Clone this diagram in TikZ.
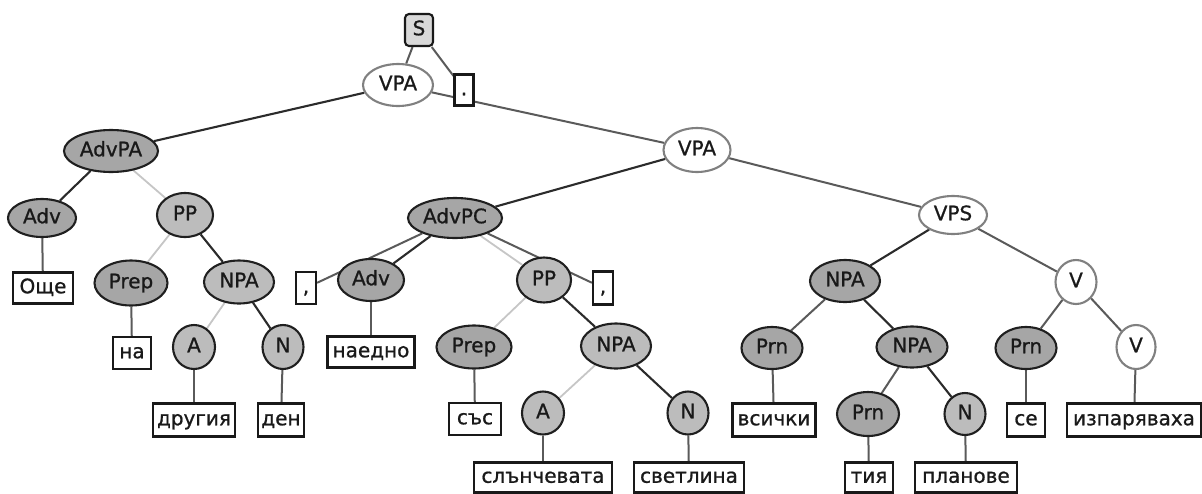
\documentclass[tikz,border=0pt]{standalone}
\usepackage{fontspec}
\setmainfont{DejaVu Sans}
\newfontfamily\nodefont{DejaVu Sans}[FakeBold=0.9]
\usetikzlibrary{shapes.geometric,backgrounds}
\definecolor{darkfill}{HTML}{A6A6A6}
\definecolor{lightfill}{HTML}{BCBCBC}
\definecolor{sfill}{HTML}{D9D9D9}
\definecolor{dedge}{HTML}{2B2B2B}
\definecolor{medge}{HTML}{5A5A5A}
\definecolor{ledge}{HTML}{C6C6C6}
\definecolor{wline}{HTML}{808080}
\begin{document}
\begin{tikzpicture}[x=1pt,y=-1pt,
  base/.style={line width=2.1pt, inner sep=0pt, font=\nodefont\fontsize{20}{22}\selectfont, text height=14pt, text depth=3.5pt, text=black!90},
  sz/.style 2 args={minimum width=#1, minimum height=#2},
  gnode/.style={base, ellipse, draw=black!88, fill=darkfill},
  lnode/.style={base, ellipse, draw=black!88, fill=lightfill},
  wnode/.style={base, ellipse, draw=wline, fill=white},
  leaf/.style={base, rectangle, draw=black!90, fill=white},
  sbox/.style={base, rectangle, rounded corners=4pt, draw=black!90, fill=sfill},
  de/.style={draw=dedge, line width=2.1pt},
  me/.style={draw=medge, line width=2pt},
  le/.style={draw=ledge, line width=1.8pt}
]
\useasboundingbox (0,0) rectangle (1202,493);
% nodes
\node[sbox, sz={28}{32}] (S) at (419,30) {S};
\node[wnode, sz={70}{42}] (vpa1) at (398,85) {VPA};
\node[leaf, sz={19}{31}] (dot) at (464,90) {.};
\node[gnode, sz={94}{42}] (advpa) at (111,151) {AdvPA};
\node[wnode, sz={67}{44}] (vpa2) at (697,150) {VPA};
\node[gnode, sz={68}{38}] (adv1) at (42,218) {Adv};
\node[lnode, sz={56}{44}] (pp1) at (185,215) {PP};
\node[leaf, sz={60}{31}] (oshte) at (43,288) {Още};
\node[gnode, sz={73}{45}] (prep1) at (131,283) {Prep};
\node[lnode, sz={70}{43}] (npa1) at (239,282) {NPA};
\node[leaf, sz={38}{32}] (na) at (132,353) {на};
\node[lnode, sz={42}{44}] (a1) at (194,347) {A};
\node[lnode, sz={41}{44}] (n1) at (283,347) {N};
\node[leaf, sz={82}{33}] (drugiya) at (194,420) {другия};
\node[leaf, sz={46}{33}] (den) at (281,420) {ден};
\node[gnode, sz={94}{40}] (advpc) at (455,218) {AdvPC};
\node[leaf, sz={20}{32}] (comma1) at (306,288) {,};
\node[gnode, sz={66}{42}] (adv2) at (371,280) {Adv};
\node[lnode, sz={54}{45}] (pp2) at (544,280) {PP};
\node[leaf, sz={20}{33}] (comma2) at (603,288) {,};
\node[leaf, sz={87}{31}] (naedno) at (371,352) {наедно};
\node[gnode, sz={75}{43}] (prep2) at (474,347) {Prep};
\node[lnode, sz={70}{45}] (npa2) at (616,346) {NPA};
\node[leaf, sz={52}{32}] (sas) at (475,419) {със};
\node[lnode, sz={42}{43}] (a2) at (543,413) {A};
\node[lnode, sz={41}{43}] (n2) at (688,413) {N};
\node[leaf, sz={138}{30}] (slanch) at (543,477.5) {слънчевата};
\node[leaf, sz={110}{30}] (svetl) at (689,477.5) {светлина};
\node[wnode, sz={68}{38}] (vps) at (953,215) {VPS};
\node[gnode, sz={70}{42}] (npa3) at (845,281) {NPA};
\node[wnode, sz={41}{44}] (v1) at (1076,282) {V};
\node[gnode, sz={61}{42}] (prn1) at (772,348) {Prn};
\node[gnode, sz={71}{41}] (npa4) at (912,347) {NPA};
\node[gnode, sz={61}{42}] (prn3) at (1026,348) {Prn};
\node[wnode, sz={39}{44}] (v2) at (1136,347) {V};
\node[leaf, sz={83}{33}] (vsichki) at (774,420) {всички};
\node[gnode, sz={62}{44}] (prn2) at (868,414) {Prn};
\node[lnode, sz={41}{42}] (n3) at (965,414) {N};
\node[leaf, sz={38}{33}] (se) at (1026,420) {се};
\node[leaf, sz={134}{33}] (izpar) at (1134,420) {изпаряваха};
\node[leaf, sz={48}{30}] (tiya) at (869,477.5) {тия};
\node[leaf, sz={102}{30}] (planove) at (966,477.5) {планове};
% edges
\begin{pgfonlayer}{background}
\draw[me] (S) -- (vpa1);
\draw[me] (S) -- (dot);
\draw[me] (vpa1) -- (vpa2);
\draw[de] (vpa1) -- (advpa);
\draw[de] (advpa) -- (adv1);
\draw[le] (advpa) -- (pp1);
\draw[me] (adv1) -- (oshte);
\draw[le] (pp1) -- (prep1);
\draw[de] (pp1) -- (npa1);
\draw[me] (prep1) -- (na);
\draw[le] (npa1) -- (a1);
\draw[de] (npa1) -- (n1);
\draw[me] (a1) -- (drugiya);
\draw[me] (n1) -- (den);
\draw[de] (vpa2) -- (advpc);
\draw[me] (vpa2) -- (vps);
\draw[me] (advpc) -- (comma1);
\draw[de] (advpc) -- (adv2);
\draw[le] (advpc) -- (pp2);
\draw[me] (advpc) -- (comma2);
\draw[me] (adv2) -- (naedno);
\draw[le] (pp2) -- (prep2);
\draw[de] (pp2) -- (npa2);
\draw[me] (prep2) -- (sas);
\draw[le] (npa2) -- (a2);
\draw[de] (npa2) -- (n2);
\draw[me] (a2) -- (slanch);
\draw[me] (n2) -- (svetl);
\draw[de] (vps) -- (npa3);
\draw[me] (vps) -- (v1);
\draw[me] (npa3) -- (prn1);
\draw[de] (npa3) -- (npa4);
\draw[me] (prn1) -- (vsichki);
\draw[me] (npa4) -- (prn2);
\draw[de] (npa4) -- (n3);
\draw[me] (prn2) -- (tiya);
\draw[me] (n3) -- (planove);
\draw[me] (v1) -- (prn3);
\draw[me] (v1) -- (v2);
\draw[me] (prn3) -- (se);
\draw[me] (v2) -- (izpar);
\end{pgfonlayer}
\end{tikzpicture}
\end{document}
